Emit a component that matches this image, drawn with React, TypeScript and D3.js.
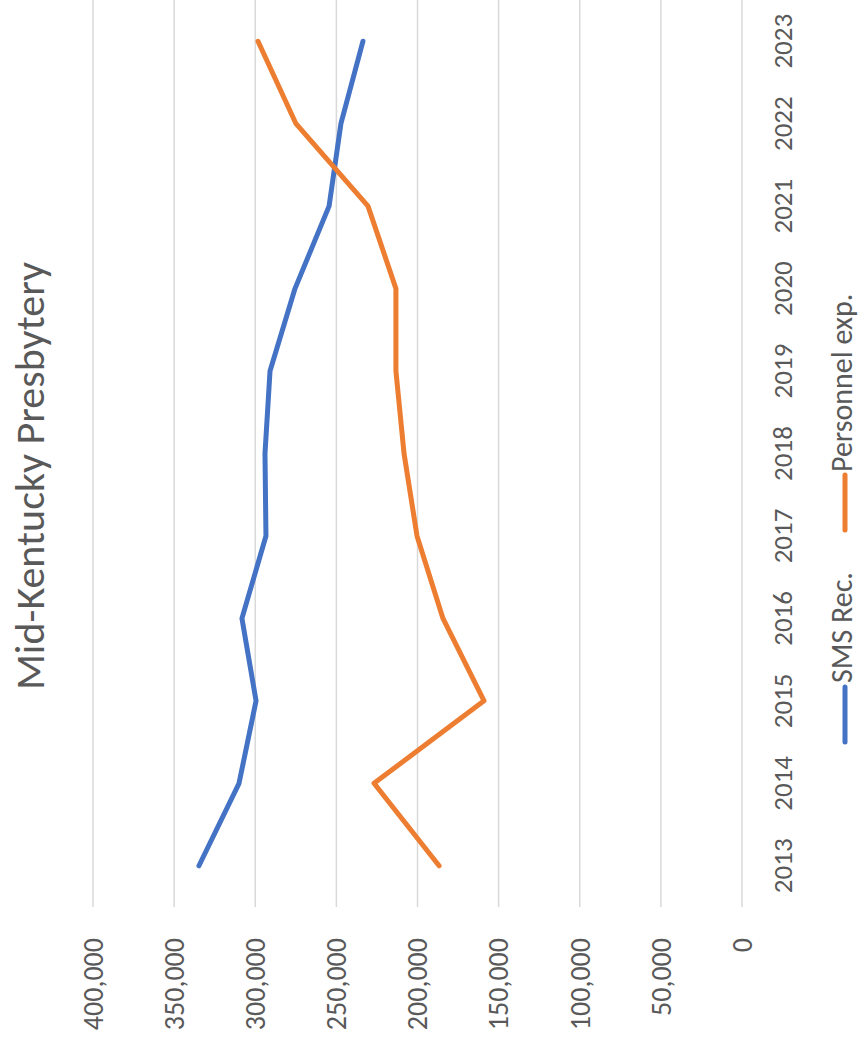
import * as d3 from "d3";

const years = ["2013", "2014", "2015", "2016", "2017", "2018", "2019", "2020", "2021", "2022", "2023"];
const smsRec = [334700, 310000, 299500, 308200, 293400, 294000, 290900, 275500, 254500, 247200, 233600];
const personnelExp = [186700, 226800, 159000, 184300, 200300, 208300, 213300, 213300, 230500, 274900, 298300];
const valueTicks = [0, 50000, 100000, 150000, 200000, 250000, 300000, 350000, 400000];

const W = 859;
const H = 1051;
const font = "Carlito, Calibri, Lato, sans-serif";
const textColor = "#595959";

export default function App() {
  // chart is drawn turned a quarter turn: values run right to left, years bottom to top
  const x = d3.scaleLinear().domain([0, 400000]).range([742, 93]);
  const y = d3.scaleBand().domain(years).range([907, 0]);
  const yc = (yr: string) => (y(yr) as number) + y.bandwidth() / 2;
  const fmt = d3.format(",");

  const line = d3
    .line<number>()
    .x((d) => x(d))
    .y((_, i) => yc(years[i]));

  const series = [
    { name: "SMS Rec.", values: smsRec, color: "#4472C4" },
    { name: "Personnel exp.", values: personnelExp, color: "#ED7D31" },
  ];

  // legend positions along the vertical direction
  const legendItems = [
    { ...series[0], lineFrom: 742, lineTo: 687, textAt: 683 },
    { ...series[1], lineFrom: 530, lineTo: 475, textAt: 472 },
  ];

  return (
    <svg
      width={W}
      height={H}
      style={{ position: "absolute", left: 0, top: 0, background: "#fff" }}
    >
      {valueTicks.map((t) => (
        <line key={t} x1={x(t)} x2={x(t)} y1={0} y2={907} stroke="#D9D9D9" strokeWidth={1.5} />
      ))}

      {series.map((s) => (
        <path
          key={s.name}
          d={line(s.values) as string}
          fill="none"
          stroke={s.color}
          strokeWidth={5}
          strokeLinejoin="round"
          strokeLinecap="round"
        />
      ))}

      {valueTicks.map((t) => (
        <text
          key={t}
          transform={`translate(${x(t)},938) rotate(-90)`}
          textAnchor="end"
          dy="0.35em"
          fontFamily={font}
          fontSize={28}
          fill={textColor}
        >
          {fmt(t)}
        </text>
      ))}

      {years.map((yr) => (
        <text
          key={yr}
          transform={`translate(783,${yc(yr)}) rotate(-90)`}
          textAnchor="middle"
          dy="0.35em"
          fontFamily={font}
          fontSize={27}
          fill={textColor}
        >
          {yr}
        </text>
      ))}

      <text
        transform="translate(29,476) rotate(-90)"
        textAnchor="middle"
        dy="0.35em"
        fontFamily={font}
        fontSize={42}
        fill={textColor}
      >
        Mid-Kentucky Presbytery
      </text>

      {legendItems.map((it) => (
        <g key={it.name}>
          <line
            x1={845}
            x2={845}
            y1={it.lineFrom}
            y2={it.lineTo}
            stroke={it.color}
            strokeWidth={5}
            strokeLinecap="round"
          />
          <text
            transform={`translate(841,${it.textAt}) rotate(-90)`}
            textAnchor="start"
            dy="0.35em"
            fontFamily={font}
            fontSize={30}
            fill={textColor}
          >
            {it.name}
          </text>
        </g>
      ))}
    </svg>
  );
}
